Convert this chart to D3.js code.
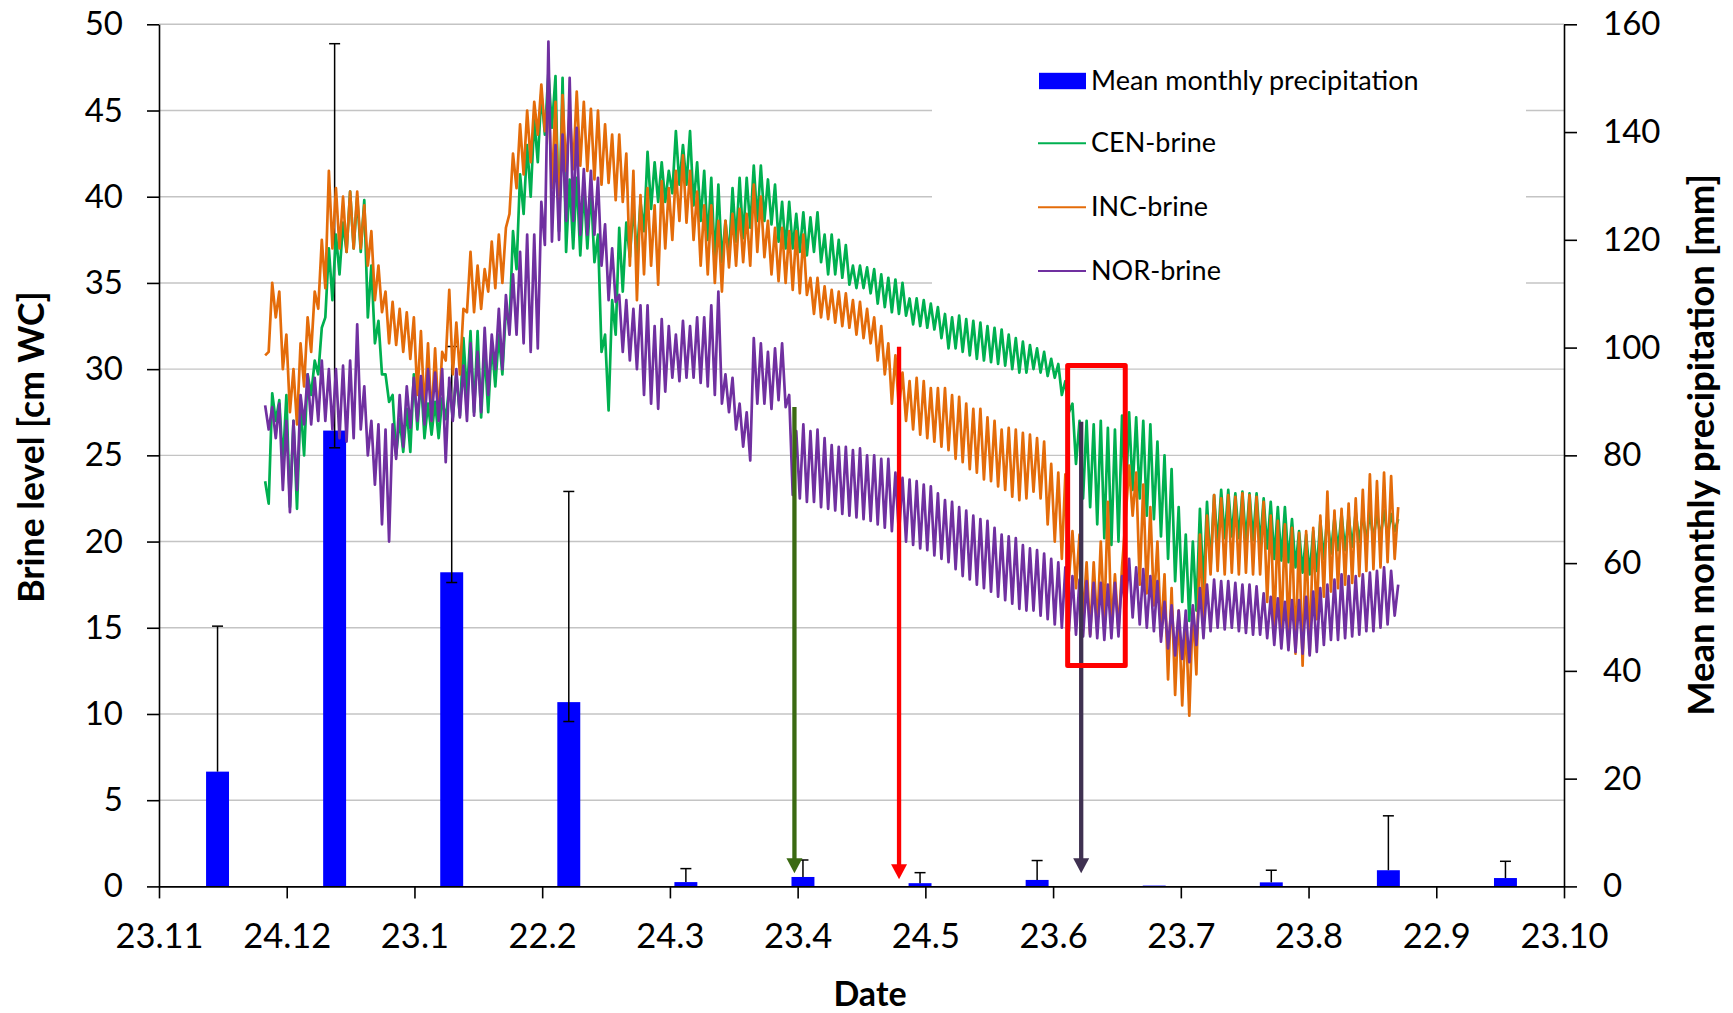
<!DOCTYPE html>
<html><head><meta charset="utf-8">
<script src="https://cdn.jsdelivr.net/npm/d3@7"></script>
<style>
body{margin:0;background:#fff}
svg{display:block}
text{font-family:Lato,"Open Sans",sans-serif;fill:#000}
</style>
</head><body>
<svg id="c" width="1733" height="1013"></svg>
<script>
// ---------- DATA ----------
const dateLabels = ["23.11","24.12","23.1","22.2","24.3","23.4","24.5","23.6","23.7","23.8","22.9","23.10"];
const leftTicks = [0,5,10,15,20,25,30,35,40,45,50];
const rightTicks = [0,20,40,60,80,100,120,140,160];

// Mean monthly precipitation [mm] (one bar per month) with error bar ends
const precipMean    = [21.3, 84.6, 58.3, 34.2, 0.8, 1.75, 0.6, 1.2, 0.15, 0.75, 3.0, 1.55];
const precipErrHigh = [48.3, 156.4, 100.2, 73.3, 3.3, 4.9, 2.55, 4.8, 0.15, 3.0, 13.1, 4.66];
const precipErrLow  = [21.3, 81.4, 56.4, 30.6, 0.8, 1.75, 0.6, 1.2, 0.15, 0.75, 3.0, 1.55];

// Brine level logger series [cm WC]. Readings alternate between the daily highs (at sample k)
// and the daily lows (half a sample later); samples span seriesStart..seriesEnd in date-tick units.
const seriesStart = 0.831, seriesEnd = 9.702;

const cenHigh = [23.5,28.6,28.2,28.5,27.0,28.0,29.7,30.5,32.4,37.0,37.8,38.5,40.3,40.0,39.8,36.0,32.8,29.7,28.5,27.1,
27.7,29.7,29.5,28.0,28.1,28.3,29.0,29.7,31.8,32.2,32.2,31.0,31.5,32.0,33.5,38.0,41.3,43.0,44.5,46.0,
47.2,47.0,46.9,41.0,41.1,40.5,40.5,37.8,32.0,34.0,38.2,38.5,39.5,39.7,42.6,42.0,42.0,41.5,43.8,43.0,
43.8,42.0,41.5,41.1,40.7,38.6,40.5,41.1,41.1,41.8,41.8,41.0,40.7,39.7,39.7,39.0,39.1,38.8,39.1,37.8,
37.8,37.5,37.2,36.0,36.0,35.9,35.8,35.5,35.3,35.2,35.0,34.1,34.1,34.0,33.8,33.6,33.2,33.0,33.1,32.9,
32.8,32.7,32.5,32.4,32.3,32.0,31.8,31.6,31.4,31.2,31.0,30.6,30.3,29.3,28.0,27.0,27.0,26.8,27.0,26.6,
26.5,27.3,27.5,27.2,27.0,26.8,25.8,25.0,24.2,22.0,20.4,20.0,21.9,22.3,22.7,23.0,23.0,22.8,22.9,22.8,
22.8,22.5,22.3,22.0,22.0,21.3,20.6,20.4,20.6,21.2,21.5,21.4,21.6,21.5,21.7,21.6,21.7,21.7,21.8,21.6,21.3];
const cenLow = [22.2,27.0,24.5,22.0,21.9,25.0,28.5,29.7,33.0,34.0,35.5,36.8,37.0,36.8,33.0,31.5,29.7,28.1,25.0,25.2,
25.2,26.5,26.0,26.2,26.0,27.1,27.2,27.3,28.5,27.5,27.2,27.5,29.0,29.7,32.5,35.8,39.0,40.0,42.0,43.6,
44.0,38.0,36.8,37.0,36.6,37.0,36.2,31.0,27.6,32.0,34.5,36.5,36.5,38.0,39.3,39.7,39.7,40.2,40.7,40.7,
39.5,38.6,37.5,36.2,36.2,36.5,37.4,37.6,38.2,38.6,38.6,38.4,37.4,37.0,37.0,36.8,36.6,36.8,36.2,35.5,
35.5,35.3,34.9,34.7,34.7,34.4,33.8,33.6,33.3,33.2,33.1,32.6,32.5,32.4,32.3,31.8,31.2,31.2,31.0,30.8,
30.6,30.5,30.4,30.3,30.2,30.0,29.8,29.8,30.0,29.8,29.6,29.5,28.5,27.5,24.5,22.5,22.0,21.0,20.2,19.8,
20.0,22.0,23.0,22.5,21.5,21.3,20.3,19.0,17.7,16.5,15.4,16.0,17.3,18.5,19.8,20.2,20.3,20.2,20.0,20.1,
19.8,19.6,19.0,18.9,18.8,18.5,18.2,18.1,18.3,19.0,19.3,19.5,19.5,19.7,20.0,20.0,20.1,20.2,20.3,20.6];

const incHigh = [30.8,35.0,34.5,32.0,30.0,31.5,33.0,34.5,37.5,41.5,40.5,40.0,40.3,40.3,39.5,38.0,36.0,34.5,33.9,33.5,
33.3,33.0,32.2,31.5,31.2,31.0,34.6,32.7,33.5,36.8,36.0,35.8,37.4,37.8,38.2,42.5,44.2,45.0,45.5,46.5,
46.0,45.5,45.9,45.0,46.1,45.5,45.1,45.0,44.2,43.6,43.6,42.5,41.5,40.1,40.5,39.5,40.9,40.5,41.5,42.4,
41.5,40.3,39.5,39.5,38.6,38.6,39.0,39.3,39.0,40.7,40.0,38.6,38.2,38.2,38.0,38.0,37.8,35.3,35.3,34.8,
34.6,34.5,34.4,34.0,33.9,33.5,33.0,32.5,31.5,30.8,29.8,29.3,29.5,29.3,28.9,28.9,28.9,28.5,28.4,28.0,
27.7,27.7,27.2,27.0,26.5,26.6,26.5,26.3,26.2,26.0,25.8,24.5,24.0,23.9,20.6,20.4,18.8,18.8,20.0,22.3,
18.1,18.5,24.4,24.0,23.3,22.0,20.0,18.1,17.3,16.0,15.5,16.1,20.4,21.5,22.7,22.5,22.7,22.6,22.8,22.7,
22.6,22.3,21.5,21.2,21.0,20.8,20.5,20.6,20.8,21.5,22.9,21.8,21.9,22.2,22.5,23.0,23.9,23.5,24.0,23.8,22.0];
const incLow = [31.0,33.0,30.0,27.5,26.8,29.0,31.0,33.5,34.7,37.0,37.0,36.8,37.0,37.0,36.0,34.0,33.3,31.5,31.4,31.0,
30.6,28.5,27.5,27.0,27.2,30.5,29.7,29.7,33.3,33.3,33.5,34.5,34.7,35.0,39.0,40.5,41.3,42.0,43.6,43.8,
40.5,38.5,41.5,41.6,41.8,41.5,41.0,40.7,40.8,39.8,39.7,36.0,34.0,35.5,36.0,34.9,37.0,37.5,38.6,38.5,
37.5,36.0,35.5,35.0,34.5,35.9,36.0,36.2,36.0,36.8,36.5,35.5,35.1,35.0,34.6,34.4,34.3,33.2,33.0,32.9,
32.7,32.5,32.4,32.0,31.8,31.5,30.5,29.7,28.0,27.7,27.0,26.5,26.2,26.0,25.8,25.5,25.3,24.8,24.6,24.2,
24.0,23.6,23.5,23.2,23.0,22.6,22.4,22.5,22.9,22.5,21.0,20.0,19.0,17.8,17.3,15.5,14.6,15.0,15.4,15.0,
14.8,21.3,21.5,17.5,17.0,16.3,14.5,12.0,11.1,10.5,9.9,12.3,15.0,18.1,18.3,18.1,18.2,18.1,18.2,18.1,
18.1,16.5,15.0,14.6,14.6,13.5,12.8,13.5,15.5,16.8,17.1,17.3,17.5,17.6,18.0,18.3,18.4,18.5,18.8,19.0];

const norHigh = [27.9,27.8,28.0,27.0,27.0,28.5,29.7,29.5,30.5,30.0,30.0,30.2,30.5,32.6,29.0,27.0,26.8,26.5,26.8,28.5,
29.0,29.5,29.6,30.0,29.8,30.0,29.5,30.0,30.2,31.5,31.0,32.4,32.0,33.5,34.3,35.5,36.8,37.8,37.8,39.7,
49.0,43.0,43.6,46.9,44.0,41.6,41.5,41.1,38.4,37.0,34.3,34.0,33.5,33.7,33.7,32.5,32.9,32.5,32.0,32.8,
32.5,33.0,33.0,33.7,34.5,29.7,29.5,28.0,27.5,31.8,31.5,31.0,31.2,31.5,28.5,26.4,26.8,26.4,26.5,26.0,
25.6,25.5,25.5,25.3,25.4,25.0,25.0,24.8,24.8,24.0,23.7,23.6,23.5,23.3,23.2,22.8,22.4,22.3,22.0,21.8,
21.5,21.3,21.2,20.8,20.4,20.3,20.2,19.8,19.6,19.5,19.3,19.0,18.8,18.5,18.0,17.8,17.7,17.6,17.6,17.5,
17.6,18.0,19.0,18.5,18.4,18.0,17.7,16.5,16.3,16.0,16.0,16.3,17.3,17.5,17.8,17.7,17.7,17.6,17.5,17.5,
17.4,17.0,16.8,16.7,16.5,16.6,16.6,16.8,17.1,17.3,17.5,17.8,18.1,18.0,18.0,18.1,18.2,18.3,18.5,18.3,17.5];
const norLow = [26.5,26.0,23.0,21.7,23.0,26.8,26.8,27.0,27.0,26.5,26.0,25.8,26.0,26.5,25.0,23.3,21.0,20.0,24.8,25.5,
26.6,27.0,26.8,27.0,27.0,24.6,27.0,27.2,27.0,27.3,27.5,28.5,30.0,30.0,32.0,32.0,31.5,31.0,31.2,37.2,
37.4,37.5,38.6,38.6,37.8,37.8,37.8,36.0,34.0,33.9,31.0,30.5,30.0,28.5,28.0,27.7,28.7,29.5,29.3,29.5,
29.5,29.2,29.0,28.5,28.0,27.5,26.5,25.5,24.7,28.0,28.0,27.7,28.2,27.8,22.7,22.5,22.3,22.3,22.0,21.9,
21.8,21.6,21.5,21.4,21.3,21.2,21.0,20.8,20.6,20.4,20.0,19.8,19.6,19.5,19.2,19.0,18.8,18.4,18.0,17.8,
17.5,17.3,17.1,16.8,16.6,16.4,16.1,16.0,16.0,15.7,15.5,15.2,15.0,14.8,14.6,14.5,14.5,14.4,14.3,14.4,
14.5,16.0,15.6,15.2,15.0,14.8,14.2,13.8,13.4,13.2,13.0,14.0,14.4,14.8,15.0,14.9,15.0,14.8,14.7,14.6,
14.6,14.4,14.0,13.8,13.7,13.6,13.5,13.4,13.6,14.0,14.3,14.3,14.4,14.5,14.6,14.8,14.8,15.0,15.2,15.7];

const seriesNames = ["CEN-brine","INC-brine","NOR-brine"];
const seriesColors = ["#00b050","#e46c0a","#7030a0"];

// Annotations (date-tick units / cm WC)
const arrowX    = [4.975, 5.794, 7.220];
const arrowTop  = [27.8, 31.3, 26.95];
const arrowTip  = [0.76, 0.41, 0.76];
const arrowCols = ["#3b6a12","#ff0000","#3f3151"];
const boxX = [7.114, 7.565], boxY = [12.81, 30.21];

// ---------- LAYOUT ----------
const L = 159, R = 1564, T = 24.3, B = 886.4;
const svg = d3.select("#c");
const x  = d3.scaleLinear().domain([0, dateLabels.length - 1]).range([L, R]);
const yL = d3.scaleLinear().domain([0, 50]).range([B, T]);
const yR = d3.scaleLinear().domain([0, 160]).range([B, T]);
const xb = d3.scaleBand().domain(d3.range(precipMean.length)).range([L, R]).paddingInner(0.804).paddingOuter(0.402);

// gridlines
svg.append("g").selectAll("line").data(leftTicks.filter(d => d > 0)).join("line")
  .attr("x1", L).attr("x2", R).attr("y1", d => yL(d)).attr("y2", d => yL(d))
  .attr("stroke", "#c4c4c4").attr("stroke-width", 1.4);

// bars
svg.append("g").selectAll("rect").data(precipMean).join("rect")
  .attr("x", (d, i) => xb(i)).attr("width", xb.bandwidth())
  .attr("y", d => yR(d)).attr("height", d => B - yR(d))
  .attr("fill", "#0000ff");

// error bars
const eb = svg.append("g").attr("stroke", "#000").attr("stroke-width", 1.5);
precipMean.forEach((m, i) => {
  const cx = xb(i) + xb.bandwidth() / 2;
  const hi = precipErrHigh[i], lo = precipErrLow[i];
  if (hi - lo < 0.2) return;
  eb.append("line").attr("x1", cx).attr("x2", cx).attr("y1", yR(lo)).attr("y2", yR(hi));
  eb.append("line").attr("x1", cx - 5.5).attr("x2", cx + 5.5).attr("y1", yR(hi)).attr("y2", yR(hi));
  if (lo < m - 0.1) eb.append("line").attr("x1", cx - 5.5).attr("x2", cx + 5.5).attr("y1", yR(lo)).attr("y2", yR(lo));
});

// brine lines: interleave daily highs and lows into one logger trace
function trace(high, low) {
  const n = high.length, step = (seriesEnd - seriesStart) / (n - 1);
  const pts = [];
  high.forEach((h, k) => {
    pts.push([seriesStart + k * step, h]);
    if (k < low.length) pts.push([seriesStart + (k + 0.5) * step, low[k]]);
  });
  return pts;
}
const allSeries = [trace(cenHigh, cenLow), trace(incHigh, incLow), trace(norHigh, norLow)];
const line = d3.line().x(d => x(d[0])).y(d => yL(d[1]));
allSeries.forEach((s, k) => {
  svg.append("path").datum(s).attr("d", line)
    .attr("fill", "none").attr("stroke", seriesColors[k])
    .attr("stroke-width", 2.7).attr("stroke-linejoin", "round");
});

// axes
const axL = svg.append("g").attr("transform", `translate(${L},0)`)
  .call(d3.axisLeft(yL).tickValues(leftTicks).tickSize(12).tickSizeOuter(0).tickPadding(24));
const axR = svg.append("g").attr("transform", `translate(${R},0)`)
  .call(d3.axisRight(yR).tickValues(rightTicks).tickSize(13).tickSizeOuter(0).tickPadding(26));
const axB = svg.append("g").attr("transform", `translate(0,${B})`)
  .call(d3.axisBottom(x).tickValues(d3.range(dateLabels.length)).tickFormat(i => dateLabels[i])
    .tickSize(12).tickSizeOuter(0).tickPadding(25));
[axL, axR, axB].forEach(g => {
  g.selectAll("path,line").attr("stroke", "#000").attr("stroke-width", 1.6);
  g.selectAll("text").attr("font-size", 33).attr("font-family", "Lato").attr("fill", "#000");
});
axB.selectAll("text").attr("font-size", 34.5);

// axis titles
svg.append("text").attr("transform", "translate(44,447) rotate(-90)")
  .attr("text-anchor", "middle").attr("font-weight", "bold").attr("font-size", 35.5)
  .text("Brine level [cm WC]");
svg.append("text").attr("transform", "translate(1714,445) rotate(-90)")
  .attr("text-anchor", "middle").attr("font-weight", "bold").attr("font-size", 36.5)
  .text("Mean monthly precipitation [mm]");
svg.append("text").attr("x", 870).attr("y", 1006)
  .attr("text-anchor", "middle").attr("font-weight", "bold").attr("font-size", 34)
  .text("Date");

// legend
const lg = svg.append("g");
lg.append("rect").attr("x", 932).attr("y", 40).attr("width", 594).attr("height", 262).attr("fill", "#fff");
const legItems = ["Mean monthly precipitation"].concat(seriesNames);
const legCols = ["#0000ff"].concat(seriesColors);
const legY = [81, 143.3, 207.3, 271];
legItems.forEach((name, i) => {
  if (i === 0) {
    lg.append("rect").attr("x", 1039).attr("y", legY[i] - 8.2).attr("width", 47).attr("height", 16.4).attr("fill", legCols[i]);
  } else {
    lg.append("line").attr("x1", 1038).attr("x2", 1086).attr("y1", legY[i]).attr("y2", legY[i])
      .attr("stroke", legCols[i]).attr("stroke-width", 2);
  }
  lg.append("text").attr("x", 1091).attr("y", legY[i] + 9).attr("font-size", 27).text(name);
});

// annotations: arrows and highlight box
const an = svg.append("g");
arrowX.forEach((ax, i) => {
  const px = x(ax), y0 = yL(arrowTop[i]), y1 = yL(arrowTip[i]);
  an.append("line").attr("x1", px).attr("x2", px).attr("y1", y0).attr("y2", y1 - 14)
    .attr("stroke", arrowCols[i]).attr("stroke-width", 4.3);
  an.append("path").attr("d", `M${px - 8},${y1 - 15} L${px + 8},${y1 - 15} L${px},${y1} Z`)
    .attr("fill", arrowCols[i]);
});
an.append("rect").attr("x", x(boxX[0])).attr("y", yL(boxY[1]))
  .attr("width", x(boxX[1]) - x(boxX[0])).attr("height", yL(boxY[0]) - yL(boxY[1]))
  .attr("fill", "none").attr("stroke", "#ff0000").attr("stroke-width", 5).attr("stroke-linejoin", "round");
</script>
</body></html>
